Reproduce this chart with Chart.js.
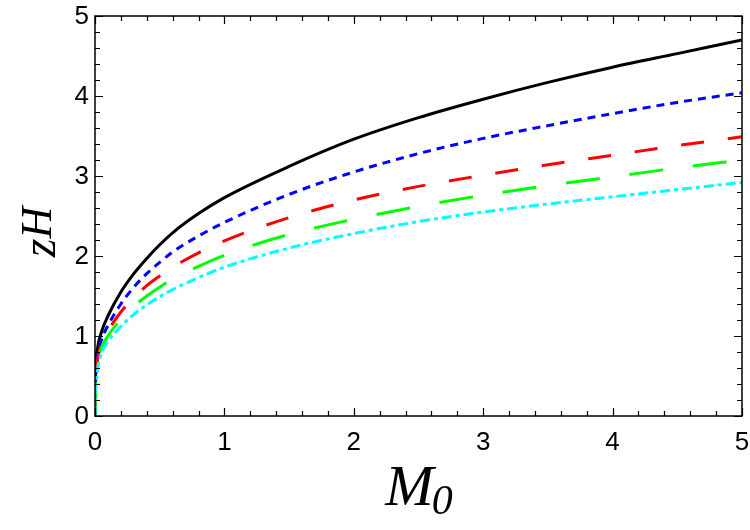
<!DOCTYPE html>
<html>
<head>
<meta charset="utf-8">
<script src="https://cdn.jsdelivr.net/npm/chart.js@4.4.0/dist/chart.umd.min.js"></script>
<style>
  html, body { margin: 0; padding: 0; background: #fff; }
  #wrap { width: 750px; height: 530px; position: relative; }
</style>
</head>
<body>
<div id="wrap"><canvas id="zhChart" width="750" height="530"></canvas></div>
<script>
// valores
const m0 = [0, 0.005, 0.02, 0.05, 0.1, 0.2, 0.3, 0.4, 0.5, 0.6, 0.8, 1, 1.5, 2, 2.5, 3, 3.5, 4, 4.5, 5];
const zBlack = [0, 0.55, 0.85, 1.05, 1.25, 1.55, 1.78, 1.97, 2.14, 2.29, 2.53, 2.73, 3.12, 3.46, 3.73, 3.96, 4.17, 4.36, 4.53, 4.70];
const zBlue  = [0, 0.45, 0.75, 0.95, 1.13, 1.40, 1.61, 1.78, 1.92, 2.05, 2.25, 2.42, 2.77, 3.05, 3.28, 3.47, 3.63, 3.78, 3.92, 4.04];
const zRed   = [0, 0.42, 0.70, 0.90, 1.06, 1.30, 1.48, 1.63, 1.75, 1.86, 2.04, 2.19, 2.48, 2.70, 2.87, 3.01, 3.14, 3.26, 3.38, 3.49];
const zGreen = [0, 0.38, 0.65, 0.85, 1.00, 1.21, 1.37, 1.50, 1.61, 1.71, 1.87, 2.01, 2.27, 2.46, 2.62, 2.76, 2.88, 2.99, 3.10, 3.20];
const zCyan  = [0, 0.30, 0.58, 0.78, 0.93, 1.12, 1.27, 1.39, 1.49, 1.58, 1.73, 1.86, 2.10, 2.28, 2.43, 2.55, 2.65, 2.74, 2.83, 2.92];

const majorTicks = [0, 1, 2, 3, 4, 5];
const tickLabels = ['0', '1', '2', '3', '4', '5'];
const minorTicks = [0.2, 0.4, 0.6, 0.8, 1.2, 1.4, 1.6, 1.8, 2.2, 2.4, 2.6, 2.8,
                    3.2, 3.4, 3.6, 3.8, 4.2, 4.4, 4.6, 4.8];

function serie(ys) {
    return m0.map((x, i) => ({ x: x, y: ys[i] }));
}

function linea(ys, color, dash, order) {
    return {
        data: serie(ys),
        borderColor: color,
        borderWidth: 3,
        borderDash: dash,
        pointRadius: 0,
        showLine: true,
        fill: false,
        cubicInterpolationMode: 'monotone',
        order: order
    };
}

// marco, marcas hacia adentro, etiquetas y titulos con subindice
const framePlugin = {
    id: 'frame',
    afterDatasetsDraw(chart) {
        const ctx = chart.ctx;
        const a = chart.chartArea;
        const xs = chart.scales.x, ys = chart.scales.y;
        ctx.save();
        ctx.strokeStyle = '#000';
        ctx.lineWidth = 1.2;
        ctx.beginPath();
        const tick = (v, len) => {
            const px = Math.round(xs.getPixelForValue(v)) + 0.5;
            ctx.moveTo(px, a.bottom); ctx.lineTo(px, a.bottom - len);
            ctx.moveTo(px, a.top); ctx.lineTo(px, a.top + len);
            const py = Math.round(ys.getPixelForValue(v)) + 0.5;
            ctx.moveTo(a.left, py); ctx.lineTo(a.left + len, py);
            ctx.moveTo(a.right, py); ctx.lineTo(a.right - len, py);
        };
        majorTicks.forEach(v => tick(v, 8));
        minorTicks.forEach(v => tick(v, 5));
        ctx.stroke();
        ctx.lineWidth = 1.5;
        ctx.strokeRect(a.left, a.top, a.right - a.left, a.bottom - a.top);

        // etiquetas de los ejes
        ctx.fillStyle = '#000';
        ctx.font = '26px "Liberation Sans"';
        ctx.textBaseline = 'middle';
        ctx.textAlign = 'center';
        majorTicks.forEach((v, i) => ctx.fillText(tickLabels[i], xs.getPixelForValue(v), a.bottom + 27));
        ctx.textAlign = 'right';
        majorTicks.forEach((v, i) => ctx.fillText(tickLabels[i], a.left - 6, ys.getPixelForValue(v) + 1));

        // titulo eje x: M0
        ctx.textBaseline = 'alphabetic';
        ctx.textAlign = 'left';
        ctx.font = 'italic 58px "Liberation Serif"';
        const wM = ctx.measureText('M').width;
        ctx.font = 'italic 42px "Liberation Serif"';
        const w0 = ctx.measureText('0').width;
        const x0 = 419 - (wM + w0 - 2) / 2;
        ctx.font = 'italic 58px "Liberation Serif"';
        ctx.fillText('M', x0, 505);
        ctx.font = 'italic 42px "Liberation Serif"';
        ctx.fillText('0', x0 + wM - 2, 514);

        // titulo eje y: zH
        ctx.translate(55, 232);
        ctx.rotate(-Math.PI / 2);
        ctx.font = 'italic 48px "Liberation Serif"';
        const wz = ctx.measureText('z').width;
        ctx.font = 'italic 44px "Liberation Serif"';
        const wH = ctx.measureText('H').width;
        const s = -(wz + wH) / 2;
        ctx.font = 'italic 48px "Liberation Serif"';
        ctx.fillText('z', s, 0);
        ctx.font = 'italic 44px "Liberation Serif"';
        ctx.fillText('H', s + wz, -4);
        ctx.restore();
    }
};

new Chart(document.getElementById('zhChart').getContext('2d'), {
    type: 'scatter',
    data: {
        datasets: [
            linea(zBlack, '#000000', [], 5),
            linea(zBlue, '#0000ff', [8, 6], 4),
            linea(zRed, '#ff0000', [23, 24], 3),
            linea(zGreen, '#00ff00', [34, 30], 2),
            linea(zCyan, '#00ffff', [10, 4, 4, 4], 1)
        ]
    },
    options: {
        responsive: false,
        animation: false,
        layout: { padding: { top: 16, right: 8, left: 0, bottom: 0 } },
        plugins: { legend: { display: false }, tooltip: { enabled: false } },
        scales: {
            x: {
                type: 'linear',
                min: 0, max: 5,
                afterFit: s => { s.height = 114; },
                grid: { display: false, drawTicks: false },
                border: { display: false },
                ticks: { display: false }
            },
            y: {
                type: 'linear',
                min: 0, max: 5,
                afterFit: s => { s.width = 95; },
                grid: { display: false, drawTicks: false },
                border: { display: false },
                ticks: { display: false }
            }
        }
    },
    plugins: [framePlugin]
});
</script>
</body>
</html>
